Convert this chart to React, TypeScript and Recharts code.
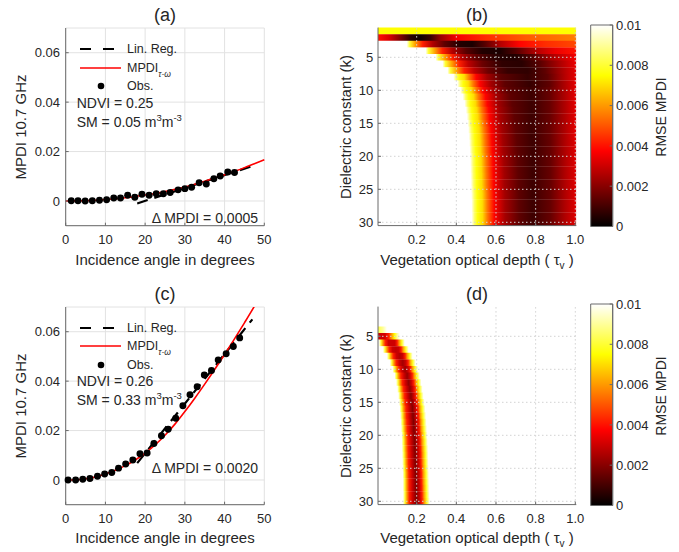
import React from 'react';
import {
  BarChart, Bar, Cell, ComposedChart, Line, Scatter,
  XAxis, YAxis, ZAxis, CartesianGrid, ReferenceLine, Legend,
} from 'recharts';

const FONT = '"Liberation Sans", Arial, Helvetica, sans-serif';
const INK = '#262626';
const AXIS = '#6a6a6a';

// ---------- panels (a) / (c): MPDI vs incidence angle ----------
const ANGLE_TICKS = [0, 10, 20, 30, 40, 50];
const MPDI_TICKS = [0, 0.02, 0.04, 0.06];
const MODEL_ANGLES = [0, 2.5, 5, 7.5, 10, 12.5, 15, 17.5, 20, 22.5, 25, 27.5, 30, 32.5, 35, 37.5, 40, 42.5, 45, 47.5, 50];

// (a) NDVI 0.25, SM 0.05
const OBS_A_X = [1.4, 3.1, 4.9, 6.7, 8.5, 10.3, 12.1, 13.8, 15.6, 17.4, 19.2, 21.0, 22.8, 24.6, 26.3, 28.3, 30.0, 31.7, 33.6, 35.4, 37.3, 38.9, 40.8, 42.5];
const OBS_A_Y = [0.0001, 0.0001, 0, 0.0001, 0.0003, 0.0005, 0.0012, 0.0012, 0.0023, 0.0015, 0.0027, 0.0023, 0.0029, 0.0029, 0.0034, 0.0045, 0.005, 0.0056, 0.0074, 0.0069, 0.009, 0.0101, 0.0117, 0.0115];
const MODEL_A = [0, 0.00003, 0.0001, 0.0003, 0.0006, 0.0009, 0.0013, 0.0018, 0.0024, 0.003, 0.0038, 0.0047, 0.0057, 0.0068, 0.008, 0.0093, 0.0106, 0.012, 0.0135, 0.0151, 0.0167];
const REG_A_X = [18, 46.6];
const REG_A_Y = [-0.001, 0.0139];

// (c) NDVI 0.26, SM 0.33
const OBS_C_X = [0.6, 2.5, 4.3, 6.1, 8.0, 9.8, 11.6, 13.3, 15.1, 16.9, 18.7, 20.5, 22.2, 24.1, 25.8, 27.7, 29.5, 31.3, 33.1, 34.9, 36.7, 38.4, 40.4, 42.2, 43.8];
const OBS_C_Y = [0, 0, 0.0003, 0.0006, 0.0015, 0.0024, 0.003, 0.0048, 0.0065, 0.0081, 0.0106, 0.0109, 0.0148, 0.0179, 0.0205, 0.025, 0.03, 0.0345, 0.0377, 0.0425, 0.0443, 0.0486, 0.0511, 0.054, 0.0575];
const MODEL_C = [0, 0.0001, 0.0005, 0.0012, 0.0024, 0.0039, 0.0058, 0.0081, 0.0109, 0.0142, 0.0181, 0.0226, 0.0277, 0.0331, 0.0388, 0.0447, 0.0508, 0.0571, 0.0636, 0.0703, 0.0775];
const REG_C_X = [18, 47];
const REG_C_Y = [0.0068, 0.065];

// ---------- panels (b) / (d): RMSE maps ----------
const K_VALUES = [1, 2, 3, 4, 5, 6, 7, 8, 9, 10, 11, 12, 13, 14, 15, 16, 17, 18, 19, 20, 21, 22, 23, 24, 25, 26, 27, 28, 29, 30];
const K_TICKS = [5, 10, 15, 20, 25, 30];
const TAU_SPAN = [0.005, 1.005];
const TAU_TICKS = [0.2, 0.4, 0.6, 0.8, 1.0];
const RMSE_TICKS = [0, 0.002, 0.004, 0.006, 0.008, 0.01];
const RMSE_MAX = 0.01;

// one row per k: tau, RMSE (x1e-4) pairs read along the row
const B_KNOTS = [
  [0.005, 75, 1.005, 75],
  [0.005, 40, 0.06, 32, 0.12, 18, 0.17, 6, 0.22, 2, 0.27, 8, 0.32, 22, 0.4, 36, 0.55, 44, 0.75, 51, 1.005, 56],
  [0.15, 100, 0.165, 80, 0.19, 62, 0.23, 42, 0.28, 26, 0.34, 14, 0.42, 5, 0.48, 4, 0.54, 12, 0.62, 26, 0.72, 38, 0.85, 44, 1.005, 48],
  [0.245, 100, 0.26, 80, 0.29, 62, 0.33, 42, 0.38, 26, 0.45, 13, 0.53, 5, 0.62, 4, 0.7, 12, 0.8, 26, 0.9, 35, 1.005, 40],
  [0.295, 100, 0.31, 80, 0.34, 62, 0.38, 42, 0.43, 26, 0.5, 14, 0.6, 6, 0.7, 5, 0.78, 12, 0.88, 25, 1.005, 36],
  [0.33, 100, 0.345, 80, 0.375, 62, 0.415, 42, 0.46, 28, 0.53, 16, 0.63, 7, 0.73, 6, 0.82, 13, 0.92, 25, 1.005, 35],
  [0.355, 100, 0.37, 80, 0.4, 62, 0.44, 42, 0.49, 28, 0.56, 16, 0.66, 8, 0.76, 7, 0.85, 14, 0.94, 26, 1.005, 34],
  [0.385, 100, 0.4, 85, 0.415, 76, 0.44, 70, 0.465, 55, 0.5, 38, 0.555, 24, 0.625, 14, 0.76, 8, 0.86, 14, 0.95, 27, 1.005, 34],
  [0.405, 100, 0.42, 85, 0.435, 76, 0.46, 70, 0.485, 55, 0.52, 38, 0.575, 24, 0.645, 14, 0.77, 8, 0.87, 14, 0.95, 26, 1.005, 34],
  [0.42, 100, 0.435, 85, 0.45, 76, 0.475, 70, 0.5, 55, 0.535, 38, 0.59, 24, 0.66, 14, 0.775, 9, 0.87, 15, 0.95, 26, 1.005, 34],
  [0.432, 100, 0.447, 85, 0.462, 76, 0.487, 70, 0.512, 55, 0.547, 38, 0.602, 24, 0.672, 14, 0.78, 9, 0.87, 15, 0.95, 26, 1.005, 34],
  [0.441, 100, 0.456, 85, 0.471, 76, 0.496, 70, 0.521, 55, 0.556, 38, 0.611, 24, 0.681, 14, 0.78, 9, 0.87, 15, 0.95, 26, 1.005, 34],
  [0.448, 100, 0.463, 85, 0.478, 76, 0.503, 70, 0.528, 55, 0.563, 38, 0.618, 24, 0.688, 14, 0.78, 9, 0.87, 15, 0.95, 26, 1.005, 34],
  [0.453, 100, 0.468, 85, 0.483, 76, 0.508, 70, 0.533, 55, 0.568, 38, 0.623, 24, 0.693, 14, 0.78, 9, 0.87, 15, 0.95, 26, 1.005, 34],
  [0.457, 100, 0.472, 85, 0.487, 76, 0.512, 70, 0.537, 55, 0.572, 38, 0.627, 24, 0.697, 14, 0.78, 9, 0.87, 15, 0.95, 26, 1.005, 34],
  [0.46, 100, 0.475, 85, 0.49, 76, 0.515, 70, 0.54, 55, 0.575, 38, 0.63, 24, 0.7, 14, 0.78, 9, 0.87, 15, 0.95, 26, 1.005, 34],
  [0.463, 100, 0.478, 85, 0.493, 76, 0.518, 70, 0.543, 55, 0.578, 38, 0.633, 24, 0.703, 14, 0.78, 9, 0.87, 15, 0.95, 26, 1.005, 34],
  [0.465, 100, 0.48, 85, 0.495, 76, 0.52, 70, 0.545, 55, 0.58, 38, 0.635, 24, 0.705, 14, 0.785, 9, 0.875, 15, 0.95, 26, 1.005, 33],
  [0.467, 100, 0.482, 85, 0.497, 76, 0.522, 70, 0.547, 55, 0.582, 38, 0.637, 24, 0.707, 14, 0.785, 9, 0.875, 15, 0.95, 26, 1.005, 33],
  [0.469, 100, 0.484, 85, 0.499, 76, 0.524, 70, 0.549, 55, 0.584, 38, 0.639, 24, 0.709, 14, 0.785, 9, 0.875, 15, 0.95, 26, 1.005, 33],
  [0.47, 100, 0.485, 85, 0.5, 76, 0.525, 70, 0.55, 55, 0.585, 38, 0.64, 24, 0.71, 14, 0.785, 9, 0.875, 15, 0.95, 26, 1.005, 33],
  [0.471, 100, 0.486, 85, 0.501, 76, 0.526, 70, 0.551, 55, 0.586, 38, 0.641, 24, 0.711, 14, 0.785, 9, 0.875, 15, 0.95, 26, 1.005, 33],
  [0.472, 100, 0.487, 85, 0.502, 76, 0.527, 70, 0.552, 55, 0.587, 38, 0.642, 24, 0.712, 14, 0.785, 9, 0.875, 15, 0.95, 26, 1.005, 33],
  [0.473, 100, 0.488, 85, 0.503, 76, 0.528, 70, 0.553, 55, 0.588, 38, 0.643, 24, 0.713, 14, 0.785, 9, 0.875, 15, 0.95, 26, 1.005, 33],
  [0.474, 100, 0.489, 85, 0.504, 76, 0.529, 70, 0.554, 55, 0.589, 38, 0.644, 24, 0.714, 14, 0.785, 9, 0.875, 15, 0.95, 26, 1.005, 33],
  [0.475, 100, 0.49, 85, 0.505, 76, 0.53, 70, 0.555, 55, 0.59, 38, 0.645, 24, 0.715, 14, 0.785, 9, 0.875, 15, 0.95, 26, 1.005, 33],
  [0.476, 100, 0.491, 85, 0.506, 76, 0.531, 70, 0.556, 55, 0.591, 38, 0.646, 24, 0.716, 14, 0.785, 9, 0.875, 15, 0.95, 26, 1.005, 33],
  [0.476, 100, 0.491, 85, 0.506, 76, 0.531, 70, 0.556, 55, 0.591, 38, 0.646, 24, 0.716, 14, 0.785, 9, 0.875, 15, 0.95, 26, 1.005, 33],
  [0.477, 100, 0.492, 85, 0.507, 76, 0.532, 70, 0.557, 55, 0.592, 38, 0.647, 24, 0.717, 14, 0.785, 9, 0.875, 15, 0.95, 26, 1.005, 33],
  [0.477, 100, 0.492, 85, 0.507, 76, 0.532, 70, 0.557, 55, 0.592, 38, 0.647, 24, 0.717, 14, 0.785, 9, 0.875, 15, 0.95, 26, 1.005, 33],
];

const D_KNOTS = [
  [0.005, 100, 1.005, 100],
  [0.005, 100, 1.005, 100],
  [0.005, 100, 1.005, 100],
  [0.005, 82, 0.03, 90, 0.05, 100],
  [0.005, 30, 0.04, 31, 0.058, 42, 0.072, 58, 0.088, 75, 0.102, 90, 0.115, 100],
  [0.01, 100, 0.02, 80, 0.03, 60, 0.042, 42, 0.058, 30, 0.075, 30, 0.09, 30, 0.102, 42, 0.112, 60, 0.125, 78, 0.14, 100],
  [0.03, 100, 0.04, 80, 0.05, 60, 0.062, 42, 0.078, 30, 0.095, 28, 0.11, 30, 0.122, 42, 0.132, 60, 0.145, 78, 0.16, 100],
  [0.05, 100, 0.06, 80, 0.07, 60, 0.082, 42, 0.098, 30, 0.115, 26, 0.13, 30, 0.142, 42, 0.152, 60, 0.165, 78, 0.18, 100],
  [0.065, 100, 0.075, 80, 0.085, 60, 0.097, 42, 0.113, 30, 0.13, 24, 0.145, 30, 0.157, 42, 0.167, 60, 0.18, 78, 0.195, 100],
  [0.078, 100, 0.088, 80, 0.098, 60, 0.11, 42, 0.126, 30, 0.142, 23, 0.157, 30, 0.169, 42, 0.179, 60, 0.192, 78, 0.207, 100],
  [0.088, 100, 0.098, 80, 0.108, 60, 0.12, 42, 0.136, 30, 0.152, 22, 0.166, 30, 0.178, 42, 0.188, 60, 0.201, 78, 0.216, 100],
  [0.096, 100, 0.106, 80, 0.116, 60, 0.128, 42, 0.144, 30, 0.16, 21, 0.174, 30, 0.186, 42, 0.196, 60, 0.209, 78, 0.224, 100],
  [0.102, 100, 0.112, 80, 0.122, 60, 0.134, 42, 0.15, 30, 0.166, 21, 0.18, 30, 0.192, 42, 0.202, 60, 0.215, 78, 0.23, 100],
  [0.107, 100, 0.117, 80, 0.127, 60, 0.139, 42, 0.155, 30, 0.171, 20, 0.185, 30, 0.197, 42, 0.207, 60, 0.22, 78, 0.235, 100],
  [0.111, 100, 0.121, 80, 0.131, 60, 0.143, 42, 0.159, 30, 0.176, 20, 0.19, 30, 0.202, 42, 0.212, 60, 0.225, 78, 0.24, 100],
  [0.114, 100, 0.124, 80, 0.134, 60, 0.146, 42, 0.162, 30, 0.179, 20, 0.194, 30, 0.206, 42, 0.216, 60, 0.229, 78, 0.244, 100],
  [0.117, 100, 0.127, 80, 0.137, 60, 0.149, 42, 0.165, 30, 0.182, 19, 0.197, 30, 0.209, 42, 0.219, 60, 0.232, 78, 0.247, 100],
  [0.119, 100, 0.129, 80, 0.139, 60, 0.151, 42, 0.167, 30, 0.184, 19, 0.2, 30, 0.212, 42, 0.222, 60, 0.235, 78, 0.25, 100],
  [0.121, 100, 0.131, 80, 0.141, 60, 0.153, 42, 0.169, 30, 0.186, 19, 0.202, 30, 0.214, 42, 0.224, 60, 0.237, 78, 0.252, 100],
  [0.123, 100, 0.133, 80, 0.143, 60, 0.155, 42, 0.171, 30, 0.188, 19, 0.204, 30, 0.216, 42, 0.226, 60, 0.239, 78, 0.254, 100],
  [0.124, 100, 0.134, 80, 0.144, 60, 0.156, 42, 0.172, 30, 0.19, 19, 0.206, 30, 0.218, 42, 0.228, 60, 0.241, 78, 0.256, 100],
  [0.125, 100, 0.135, 80, 0.145, 60, 0.157, 42, 0.173, 30, 0.191, 19, 0.208, 30, 0.22, 42, 0.23, 60, 0.243, 78, 0.258, 100],
  [0.126, 100, 0.136, 80, 0.146, 60, 0.158, 42, 0.174, 30, 0.192, 19, 0.209, 30, 0.221, 42, 0.231, 60, 0.244, 78, 0.259, 100],
  [0.127, 100, 0.137, 80, 0.147, 60, 0.159, 42, 0.175, 30, 0.193, 19, 0.21, 30, 0.222, 42, 0.232, 60, 0.245, 78, 0.26, 100],
  [0.128, 100, 0.138, 80, 0.148, 60, 0.16, 42, 0.176, 30, 0.194, 19, 0.211, 30, 0.223, 42, 0.233, 60, 0.246, 78, 0.261, 100],
  [0.129, 100, 0.139, 80, 0.149, 60, 0.161, 42, 0.177, 30, 0.195, 19, 0.212, 30, 0.224, 42, 0.234, 60, 0.247, 78, 0.262, 100],
  [0.13, 100, 0.14, 80, 0.15, 60, 0.162, 42, 0.178, 30, 0.196, 19, 0.213, 30, 0.225, 42, 0.235, 60, 0.248, 78, 0.263, 100],
  [0.13, 100, 0.14, 80, 0.15, 60, 0.162, 42, 0.178, 30, 0.197, 19, 0.214, 30, 0.226, 42, 0.236, 60, 0.249, 78, 0.264, 100],
  [0.131, 100, 0.141, 80, 0.151, 60, 0.163, 42, 0.179, 30, 0.198, 19, 0.215, 30, 0.227, 42, 0.237, 60, 0.25, 78, 0.265, 100],
  [0.131, 100, 0.141, 80, 0.151, 60, 0.163, 42, 0.179, 30, 0.198, 19, 0.216, 30, 0.228, 42, 0.238, 60, 0.251, 78, 0.266, 100],
];

// MATLAB "hot" colormap: black -> red -> yellow -> white
const HOT_STOPS: Array<[number, string]> = [[0, '#000000'], [0.375, '#ff0000'], [0.75, '#ffff00'], [1, '#ffffff']];

function hot(rmse: number) {
  const t = Math.max(0, Math.min(1, rmse / RMSE_MAX));
  const r = Math.min(1, t / 0.375);
  const g = Math.max(0, Math.min(1, (t - 0.375) / 0.375));
  const b = Math.max(0, (t - 0.75) / 0.25);
  return `rgb(${Math.round(r * 255)},${Math.round(g * 255)},${Math.round(b * 255)})`;
}

function pairs(flat: number[]) {
  const out: Array<{ tau: number; rmse: number }> = [];
  for (let i = 0; i < flat.length; i += 2) out.push({ tau: flat[i], rmse: flat[i + 1] / 1e4 });
  return out;
}

const tickStyle = { fontSize: 13, fill: INK };

function Txt({ x, y, size = 14, anchor = 'start', rotate = false, children }: any) {
  const tx = anchor === 'middle' ? '-50%' : anchor === 'end' ? '-100%' : '0';
  return (
    <div style={{
      position: 'absolute', left: x, top: y, fontSize: size, lineHeight: 1, whiteSpace: 'nowrap', color: INK,
      transform: `translate(${tx}, -50%)${rotate ? ' rotate(-90deg)' : ''}`,
    }}>
      {children}
    </div>
  );
}

const sup = (s: string) => <span style={{ fontSize: 9.5, position: 'relative', top: -6 }}>{s}</span>;

function SeriesKey() {
  const row = { display: 'flex', alignItems: 'center', height: 18.5 } as const;
  return (
    <div style={{ fontSize: 12.5, color: INK, fontFamily: FONT }}>
      <div style={row}>
        <svg width={41} height={6}><line x1={0} y1={3} x2={41} y2={3} stroke="#000" strokeWidth={2.2} strokeDasharray="11 12" /></svg>
        <span style={{ marginLeft: 6 }}>Lin. Reg.</span>
      </div>
      <div style={row}>
        <svg width={41} height={6}><line x1={0} y1={3} x2={41} y2={3} stroke="#ff0000" strokeWidth={1.6} /></svg>
        <span style={{ marginLeft: 6 }}>MPDI<span style={{ fontSize: 8.5, fontStyle: 'italic', position: 'relative', top: 5 }}>τ-ω</span></span>
      </div>
      <div style={row}>
        <svg width={41} height={8}><circle cx={21} cy={4} r={3.3} fill="#000" /></svg>
        <span style={{ marginLeft: 6 }}>Obs.</span>
      </div>
    </div>
  );
}

function MpdiChart({ obsX, obsY, model, regX, regY }: any) {
  const obs = obsX.map((x: number, i: number) => ({ x, y: obsY[i] }));
  const curve = MODEL_ANGLES.map((x, i) => ({ x, y: model[i] }));
  const reg = regX.map((x: number, i: number) => ({ x, y: regY[i] }));
  return (
    <ComposedChart width={280} height={270} margin={{ top: 28, right: 15.7, bottom: 0, left: 0 }}>
      <CartesianGrid stroke="#e2e2e2" />
      <XAxis type="number" dataKey="x" domain={[0, 50]} ticks={ANGLE_TICKS} height={44.3}
        stroke={AXIS} tickSize={-3} tickMargin={12.5} tick={tickStyle} />
      <YAxis type="number" domain={[-0.01, 0.07]} ticks={MPDI_TICKS} width={65.7} allowDataOverflow
        stroke={AXIS} tickSize={-3} tickMargin={8.7} tick={tickStyle}
        tickFormatter={(v: number) => (v === 0 ? '0' : v.toFixed(2))} />
      <XAxis xAxisId="top" orientation="top" type="number" domain={[0, 50]} ticks={ANGLE_TICKS} height={0}
        stroke={AXIS} tickSize={-3} tick={false} />
      <YAxis yAxisId="right" orientation="right" type="number" domain={[-0.01, 0.07]} ticks={MPDI_TICKS} width={0}
        stroke={AXIS} tickSize={-3} tick={false} />
      <ZAxis range={[38, 38]} />
      <Line data={reg} dataKey="y" type="linear" stroke="#000" strokeWidth={2.2} strokeDasharray="11 7"
        dot={false} isAnimationActive={false} />
      <Line data={curve} dataKey="y" type="monotone" stroke="#ff0000" strokeWidth={1.6}
        dot={false} isAnimationActive={false} />
      <Scatter data={obs} dataKey="y" fill="#000" isAnimationActive={false} />
      <Legend verticalAlign="middle" align="center" layout="horizontal"
        wrapperStyle={{ left: 80, top: 40, width: 'auto' }} content={() => <SeriesKey />} />
    </ComposedChart>
  );
}

function RmseMap({ knots, id }: any) {
  const data = K_VALUES.map((k) => ({ k, span: TAU_SPAN }));
  const width = TAU_SPAN[1] - TAU_SPAN[0];
  return (
    <BarChart layout="vertical" width={270} height={270} data={data} barCategoryGap={0}
      margin={{ top: 27.6, right: 13.7, bottom: 0, left: 0 }}>
      <defs>
        {knots.map((flat: number[], i: number) => (
          <linearGradient key={i} id={`${id}-${i}`} x1="0" y1="0" x2="1" y2="0">
            {pairs(flat).map((p, j) => (
              <stop key={j} offset={`${((p.tau - TAU_SPAN[0]) / width) * 100}%`} stopColor={hot(p.rmse)} />
            ))}
          </linearGradient>
        ))}
      </defs>
      <XAxis type="number" domain={TAU_SPAN} ticks={TAU_TICKS} height={44.4} allowDataOverflow
        stroke={AXIS} tickSize={-3} tickMargin={12.5} tick={tickStyle}
        tickFormatter={(v: number) => v.toFixed(1)} />
      <YAxis type="category" dataKey="k" ticks={K_TICKS} width={58}
        stroke={AXIS} tickSize={-3} tickMargin={7.7} tick={tickStyle} />
      <XAxis xAxisId="top" orientation="top" type="number" domain={TAU_SPAN} ticks={TAU_TICKS} height={0}
        stroke={AXIS} tickSize={-3} tick={false} />
      <YAxis yAxisId="right" orientation="right" type="number" domain={[0.5, 30.5]} ticks={K_TICKS} width={0}
        stroke={AXIS} tickSize={-3} tick={false} />
      <Bar dataKey="span" isAnimationActive={false}>
        {data.map((d, i) => <Cell key={d.k} fill={`url(#${id}-${i})`} />)}
      </Bar>
      {TAU_TICKS.map((t) => (
        <ReferenceLine key={`x${t}`} x={t} stroke="#d2d2d2" strokeDasharray="1.5 2.5" />
      ))}
      {K_TICKS.map((k) => (
        <ReferenceLine key={`y${k}`} y={k} stroke="#d2d2d2" strokeDasharray="1.5 2.5" />
      ))}
    </BarChart>
  );
}

function HotBar({ id }: any) {
  const data = [{ name: 'rmse', range: [0, RMSE_MAX] }];
  return (
    <BarChart width={99} height={270} data={data} barCategoryGap={0}
      margin={{ top: 25, right: 0, bottom: 43.5, left: 10.7 }}>
      <defs>
        <linearGradient id={id} x1="0" y1="1" x2="0" y2="0">
          {HOT_STOPS.map(([o, c]) => <stop key={o} offset={`${o * 100}%`} stopColor={c} />)}
        </linearGradient>
      </defs>
      <XAxis dataKey="name" hide />
      <YAxis orientation="right" type="number" domain={[0, RMSE_MAX]} ticks={RMSE_TICKS} width={66.3}
        stroke={AXIS} tickSize={-3} tickMargin={6.3} tick={tickStyle}
        tickFormatter={(v: number) => (v === 0 ? '0' : String(Number(v.toFixed(3))))} />
      <Bar dataKey="range" fill={`url(#${id})`} stroke={AXIS} isAnimationActive={false} />
    </BarChart>
  );
}

function PanelRow({ top, left, right }: any) {
  return (
    <div style={{ position: 'absolute', left: 0, top, width: 679, height: 270 }}>
      <div style={{ position: 'absolute', left: 0, top: 0 }}>
        <MpdiChart {...left.series} />
      </div>
      <div style={{ position: 'absolute', left: 320, top: 0 }}>
        <RmseMap knots={right.knots} id={right.id} />
      </div>
      <div style={{ position: 'absolute', left: 580, top: 0 }}>
        <HotBar id={`${right.id}-cb`} />
      </div>

      <Txt x={165} y={15} size={18} anchor="middle">{left.title}</Txt>
      <Txt x={165} y={258.5} size={15} anchor="middle">Incidence angle in degrees</Txt>
      <Txt x={20} y={127} size={15} anchor="middle" rotate>MPDI 10.7 GHz</Txt>
      <Txt x={76.7} y={102.5}>NDVI = {left.ndvi}</Txt>
      <Txt x={76.7} y={121.5}>SM = {left.sm} m{sup('3')}m{sup('-3')}</Txt>
      <Txt x={258} y={left.deltaY} anchor="end">Δ MPDI = {left.delta}</Txt>

      <Txt x={477} y={15} size={18} anchor="middle">{right.title}</Txt>
      <Txt x={477} y={258.5} size={15} anchor="middle">
        Vegetation optical depth ( τ<span style={{ fontSize: 10, position: 'relative', top: 4 }}>v</span> )
      </Txt>
      <Txt x={345} y={127} size={15} anchor="middle" rotate>Dielectric constant (k)</Txt>
      <Txt x={661} y={117} size={14} anchor="middle" rotate>RMSE MPDI</Txt>
    </div>
  );
}

export default function App() {
  return (
    <div style={{
      position: 'absolute', left: 0, top: 0, width: 679, height: 552,
      background: '#ffffff', fontFamily: FONT, color: INK, overflow: 'hidden',
    }}>
      <PanelRow
        top={0}
        left={{
          title: '(a)', ndvi: '0.25', sm: '0.05', delta: '0.0005', deltaY: 218,
          series: { obsX: OBS_A_X, obsY: OBS_A_Y, model: MODEL_A, regX: REG_A_X, regY: REG_A_Y },
        }}
        right={{ title: '(b)', knots: B_KNOTS, id: 'mapb' }}
      />
      <PanelRow
        top={278.5}
        left={{
          title: '(c)', ndvi: '0.26', sm: '0.33', delta: '0.0020', deltaY: 189.2,
          series: { obsX: OBS_C_X, obsY: OBS_C_Y, model: MODEL_C, regX: REG_C_X, regY: REG_C_Y },
        }}
        right={{ title: '(d)', knots: D_KNOTS, id: 'mapd' }}
      />
    </div>
  );
}
